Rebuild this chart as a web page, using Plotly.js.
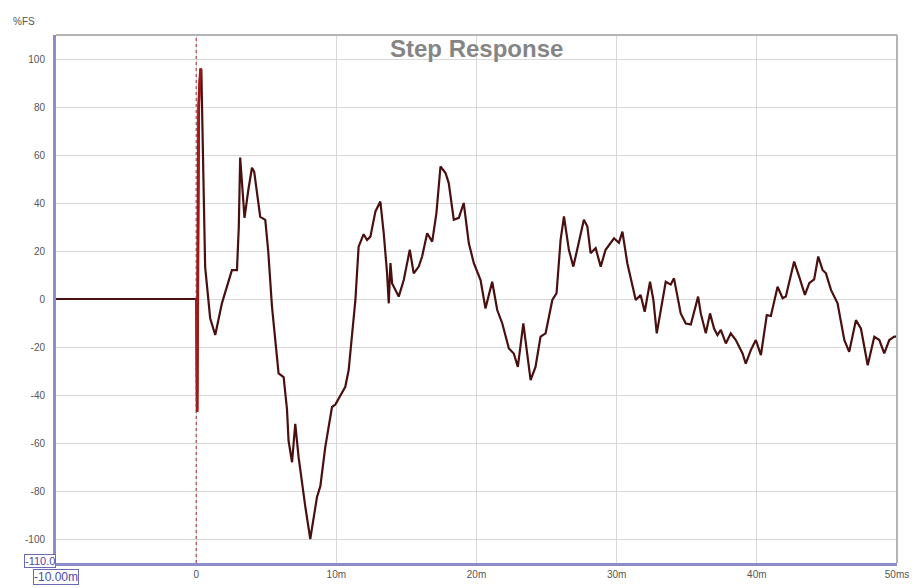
<!DOCTYPE html>
<html>
<head>
<meta charset="utf-8">
<script src="https://cdn.plot.ly/plotly-3.0.1.min.js"></script>
<style>
html,body{margin:0;padding:0;background:#fff;}
#chart{width:915px;height:588px;}
</style>
</head>
<body>
<div id="chart"></div>
<script>
// time in ms
const timeMs = [-10, -5, 0, 0.02, 0.07, 0.18, 0.25, 0.32, 0.37, 0.5, 0.64, 1.0, 1.36, 1.84, 2.55, 2.91, 3.04, 3.14, 3.29, 3.45, 3.71, 3.98, 4.14, 4.57, 4.93, 5.14, 5.41, 5.88, 6.24, 6.48, 6.59, 6.84, 7.07, 7.31, 7.79, 8.14, 8.62, 8.86, 9.21, 9.69, 9.93, 10.41, 10.64, 10.88, 11.12, 11.36, 11.59, 11.84, 11.95, 12.19, 12.43, 12.79, 13.14, 13.38, 13.62, 13.74, 13.86, 13.98, 14.45, 14.81, 15.24, 15.52, 15.88, 16.12, 16.48, 16.84, 17.14, 17.43, 17.79, 18.02, 18.38, 18.74, 19.09, 19.45, 19.81, 20.29, 20.64, 21.12, 21.48, 21.84, 22.31, 22.66, 22.95, 23.34, 23.62, 23.86, 24.21, 24.57, 24.93, 25.41, 25.71, 26.0, 26.24, 26.59, 26.91, 27.31, 27.66, 27.91, 28.14, 28.5, 28.86, 29.21, 29.81, 30.16, 30.41, 30.76, 31.12, 31.36, 31.71, 32.0, 32.38, 32.62, 32.86, 33.14, 33.5, 33.86, 34.09, 34.57, 34.93, 35.29, 35.81, 36.0, 36.36, 36.66, 36.95, 37.19, 37.43, 37.79, 38.14, 38.5, 38.98, 39.21, 39.57, 39.93, 40.29, 40.71, 41.0, 41.48, 41.84, 42.07, 42.66, 43.02, 43.43, 43.74, 44.09, 44.38, 44.69, 44.93, 45.29, 45.76, 46.24, 46.59, 47.07, 47.43, 47.91, 48.38, 48.74, 49.09, 49.45, 49.81, 50];
// step response, % full scale
const stepPct = [0, 0, 0, 0, -47, 80, 90, 96, 95, 50, 13.4, -8, -15, -1.7, 12, 12, 30, 58.9, 45, 33.8, 45, 54.7, 53, 34.2, 33, 20, -3.3, -31, -32.5, -46, -59, -68, -52, -66, -86.7, -100, -82.5, -78, -61.7, -45, -44, -39.4, -36.6, -29.6, -14.3, -0.4, 21.8, 25.3, 27, 24.6, 26, 36.5, 40.6, 27.5, 10.8, -1.8, 15, 6.5, 1, 7.9, 20.5, 10.7, 13.5, 17.7, 27.4, 23.9, 35.8, 55.2, 52.5, 48.3, 33, 33.8, 40, 23.3, 14.9, 7.9, -3.9, 7.2, -4.6, -10.2, -20.6, -22.7, -28.3, -10.2, -24, -33.8, -28.3, -15.7, -14.3, -0.4, 2.4, 24.6, 34.4, 20.5, 13.5, 24.6, 33, 30.2, 19.1, 21.2, 13.5, 20.5, 25.3, 23.4, 28.1, 14.9, 5.1, -0.4, 1.7, -5.3, 7.2, -0.4, -14.3, -4.6, 7.2, 6, 8.6, -6, -10.2, -10.6, 1, -6, -14.3, -6, -12.3, -15, -12.9, -18.5, -14.3, -17.1, -22.7, -26.9, -21.3, -17.1, -23.4, -6.7, -7.1, 5.1, 0.3, 1, 15.6, 9.3, 1.7, 6.6, 8.2, 17.7, 12.1, 10.7, 3.8, -1.8, -17.1, -22, -8.8, -12.4, -27.6, -15.7, -17.1, -22.7, -17.1, -15.7, -15.7];

const xTickVals = [0, 10, 20, 30, 40, 50];
const xTickText = ['0', '10m', '20m', '30m', '40m', '50ms'];
const yTickVals = [-100, -80, -60, -40, -20, 0, 20, 40, 60, 80, 100];
const yTickText = ['-100', '-80', '-60', '-40', '-20', '0', '20', '40', '60', '80', '100'];

// impulse segment (drawn in brighter red) taken from the same arrays
const impX = [], impY = [];
for (let i = 0; i < timeMs.length; i++) {
  if (timeMs[i] >= 0 && timeMs[i] <= 0.4) { impX.push(timeMs[i]); impY.push(stepPct[i]); }
}

const traces = [
  {x: timeMs, y: stepPct, type: 'scatter', mode: 'lines',
   line: {color: '#4a1010', width: 2.2}, hoverinfo: 'skip'},
  {x: impX, y: impY, type: 'scatter', mode: 'lines',
   line: {color: '#a01818', width: 2.8}, hoverinfo: 'skip'}
];

const axisFont = {family: 'Liberation Sans, Arial, sans-serif', size: 10, color: '#555'};

const layout = {
  width: 915, height: 588,
  margin: {l: 56, r: 18, t: 35, b: 25, pad: 0},
  paper_bgcolor: '#fff', plot_bgcolor: '#fff',
  showlegend: false,
  xaxis: {
    range: [-10, 50], tickvals: xTickVals, ticktext: xTickText,
    showgrid: true, gridcolor: '#d9d9d9', gridwidth: 1, zeroline: false,
    showline: true, linecolor: '#8c8cc8', linewidth: 3,
    ticks: '', tickfont: axisFont, fixedrange: true
  },
  yaxis: {
    range: [-110, 110], tickvals: yTickVals, ticktext: yTickText,
    showgrid: true, gridcolor: '#d9d9d9', gridwidth: 1, zeroline: false,
    showline: true, linecolor: '#8c8cc8', linewidth: 3,
    ticks: '', ticklabelstandoff: 6, tickfont: axisFont, fixedrange: true
  },
  shapes: [
    {type: 'line', xref: 'paper', yref: 'paper', x0: 0, x1: 1, y0: 1, y1: 1,
     line: {color: '#b4b4b4', width: 2}},
    {type: 'line', xref: 'paper', yref: 'paper', x0: 1, x1: 1, y0: 0, y1: 1,
     line: {color: '#b4b4b4', width: 2}},
    {type: 'line', xref: 'x', yref: 'paper', x0: 0, x1: 0, y0: 0, y1: 1,
     line: {color: '#a02828', width: 1, dash: 'dot'}, layer: 'above'}
  ],
  annotations: [
    {text: 'Step Response', xref: 'paper', yref: 'paper', x: 0.5, y: 0.975,
     xanchor: 'center', yanchor: 'middle', showarrow: false,
     font: {family: 'Liberation Sans, Arial, sans-serif', size: 24, color: '#858585', weight: 'bold'}},
    {text: '%FS', xref: 'paper', yref: 'paper', x: -0.022, y: 1.0, xshift: 0, yshift: 14,
     xanchor: 'right', yanchor: 'middle', showarrow: false,
     font: {family: 'Liberation Sans, Arial, sans-serif', size: 10, color: '#555'}},
    {text: '-110.0', xref: 'paper', yref: 'y', x: 0, y: -110, yshift: 2, xanchor: 'right', yanchor: 'middle',
     showarrow: false, bordercolor: '#6a6ab8', borderwidth: 1, borderpad: 0, bgcolor: '#fff',
     font: {family: 'Liberation Sans, Arial, sans-serif', size: 11, color: '#4a4aa8'}},
    {text: '-10.00m', xref: 'x', yref: 'paper', x: -10, y: 0, yshift: -14, xanchor: 'center', yanchor: 'middle',
     showarrow: false, bordercolor: '#6a6ab8', borderwidth: 1, borderpad: 0, bgcolor: '#fff',
     font: {family: 'Liberation Sans, Arial, sans-serif', size: 12, color: '#4a4aa8'}}
  ]
};

Plotly.newPlot('chart', traces, layout, {staticPlot: true, displayModeBar: false});
</script>
</body>
</html>
